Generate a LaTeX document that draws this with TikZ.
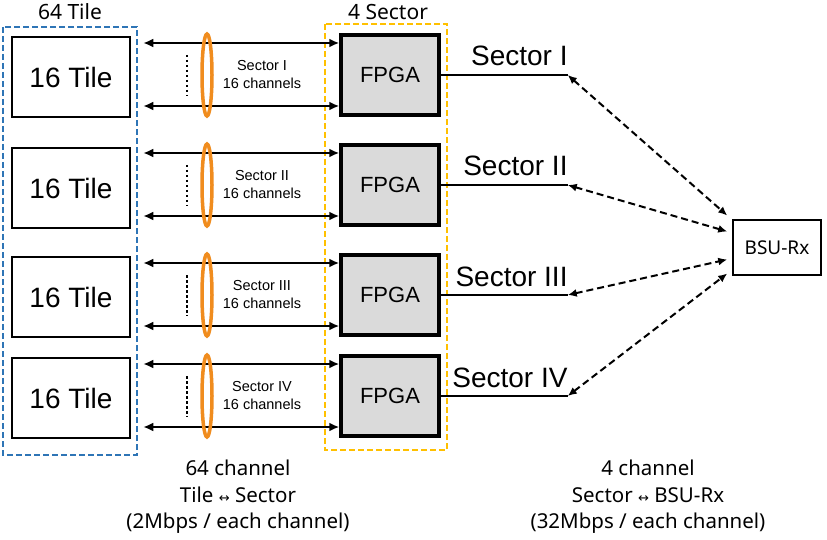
\documentclass[tikz,border=0pt]{standalone}
\usepackage{fontspec}
\setmainfont{Liberation Sans}
\newfontfamily\gothfont{Noto Sans}
\newfontfamily\arrfont{DejaVu Sans}
\usetikzlibrary{arrows.meta}
\definecolor{tileblue}{RGB}{46,117,182}
\definecolor{sectyellow}{RGB}{255,192,0}
\definecolor{bundleorange}{RGB}{240,140,30}
\definecolor{fpgagray}{RGB}{218,218,218}

\begin{document}
\begin{tikzpicture}
[
x=1pt, y=-1pt,
tile/.style={draw, line width=1.3pt, minimum width=118pt, minimum height=80pt, inner sep=0pt, font=\fontsize{28}{32}\selectfont},
fpga/.style={draw, line width=3.5pt, fill=fpgagray, minimum width=98pt, minimum height=80pt, inner sep=0pt, font=\fontsize{22}{26}\selectfont},
link/.style={{Latex[length=10pt,width=9pt]}-{Latex[length=10pt,width=9pt]}, line width=2.2pt},
dlink/.style={{Latex[length=9pt,width=8pt]}-{Latex[length=9pt,width=8pt]}, line width=2pt, dash pattern=on 7pt off 4pt},
bundle/.style={draw=bundleorange, line width=3.5pt},
chan/.style={align=center, inner sep=0pt, font=\fontsize{14.5}{18}\selectfont},
head/.style={inner sep=0pt, font=\gothfont\fontsize{21}{24}\selectfont},
note/.style={align=center, inner sep=0pt, font=\gothfont\fontsize{20.5}{26.5}\selectfont},
sect/.style={anchor=base east, inner sep=0pt, font=\fontsize{28}{32}\selectfont}
]
\useasboundingbox (0,0) rectangle (827,540);

\node[head] (h1) at (70,12) {64 Tile};
\node[head] (h2) at (388,12) {4 Sector};
\draw[draw=tileblue, line width=2pt, dash pattern=on 6pt off 3pt] (3,27) rectangle (137,455);
\draw[draw=sectyellow, line width=2pt, dash pattern=on 6pt off 3pt] (325,24) rectangle (447,450);

\node[draw, line width=1.5pt, minimum width=88pt, minimum height=55pt, font=\gothfont\fontsize{19}{22}\selectfont] (bsu) at (777,247.5) {BSU-Rx};

\foreach \i/\ty/\y/\r/\dy in {1/77/75/I/32, 2/188/185/II/16, 3/297/295/III/-12, 4/398/396/IV/-26} {
  \node[tile] (t\i) at (71,\ty) {16 Tile};
  \node[fpga] (f\i) at (390,\y) {FPGA};
  \draw[link] ([yshift=32pt]f\i.west) -- ++(-196,0);
  \draw[link] ([yshift=-31pt]f\i.west) -- ++(-196,0);
  \draw[line width=2.5pt, dash pattern=on 2.5pt off 2.5pt] (187,\y-20) -- (187,\y+21);
  \draw[bundle] (207,\y) ellipse [x radius=5, y radius=41];
  \node[chan] (c\i) at (262,\y) {Sector \r\\16 channels};
  \draw[line width=2.2pt] (f\i.east) -- ++(127,0) coordinate (e\i);
  \node[sect] (s\i) at ([yshift=9pt]e\i) {Sector \r};
  \draw[dlink] (e\i) -- ([xshift=-5pt,yshift=\dy pt]bsu.west);
}

\node[note] (n1) at (238,497) {64 channel\\Tile {\arrfont\fontsize{13}{16}\selectfont↔} Sector\\(2Mbps / each channel)};
\node[note] (n2) at (648,497) {4 channel\\Sector {\arrfont\fontsize{13}{16}\selectfont↔} BSU-Rx\\(32Mbps / each channel)};
\end{tikzpicture}
\end{document}
